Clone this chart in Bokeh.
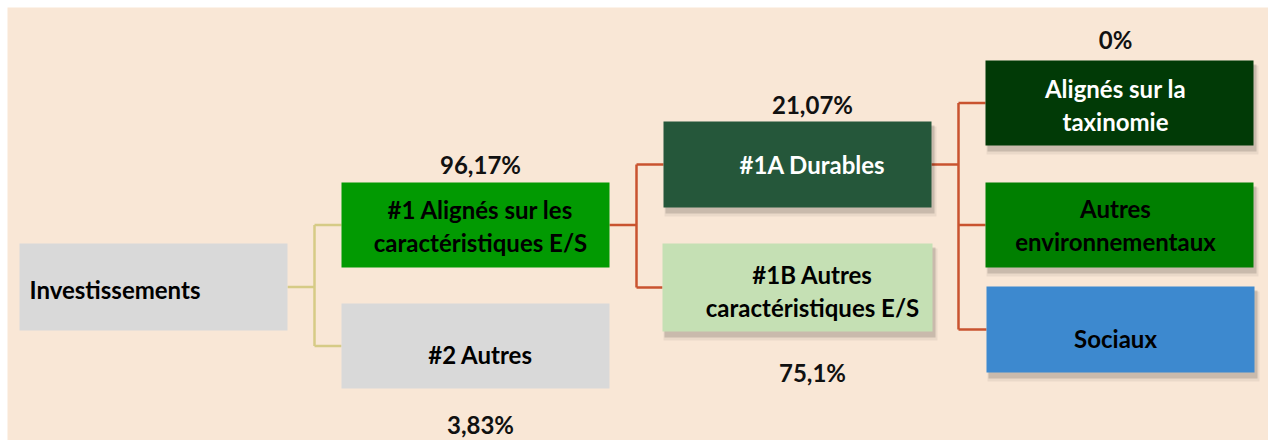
from bokeh.plotting import figure
from bokeh.models import Range1d
from bokeh.core.properties import value
from bokeh.embed import file_html
from bokeh.resources import INLINE

# ---------------- data ----------------
node_ids = ["inv", "n1", "n2", "n1a", "n1b", "tax", "env", "soc"]
node_labels = [
    "Investissements",
    "#1 Alignés sur les\ncaractéristiques E/S",
    "#2 Autres",
    "#1A Durables",
    "#1B Autres\ncaractéristiques E/S",
    "Alignés sur la\ntaxinomie",
    "Autres\nenvironnementaux",
    "Sociaux",
]
node_shares = [None, "96,17%", "3,83%", "21,07%", "75,1%", "0%", None, None]
edges = [("inv", "n1"), ("inv", "n2"),
         ("n1", "n1a"), ("n1", "n1b"),
         ("n1a", "tax"), ("n1a", "env"), ("n1a", "soc")]

# ---------------- layout / style ----------------
BG = "#F9E7D6"
FONT = "Lato"
FS = "24px"
LINE_GAP = 33
layout = {
    "inv": dict(box=(19, 287, 243, 330), tx=29, ty=289, align="left", fill="#D9D9D9", tc="#000000", shadow=False, sy=None),
    "n1":  dict(box=(341, 609, 182, 267), tx=480, ty=225.5, align="center", fill="#029A02", tc="#000000", shadow=False, sy=164),
    "n2":  dict(box=(341, 609, 303, 388), tx=480, ty=354, align="center", fill="#D9D9D9", tc="#000000", shadow=False, sy=424),
    "n1a": dict(box=(663, 931, 121, 207), tx=812, ty=164, align="center", fill="#25573A", tc="#FFFFFF", shadow=True, sy=104),
    "n1b": dict(box=(662, 932, 243, 331), tx=812, ty=290.5, align="center", fill="#C5E0B4", tc="#000000", shadow=True, sy=372),
    "tax": dict(box=(985, 1253, 60, 145), tx=1115, ty=104.5, align="center", fill="#013A06", tc="#FFFFFF", shadow=True, sy=39),
    "env": dict(box=(985, 1253, 182, 267), tx=1115, ty=224.5, align="center", fill="#007F00", tc="#000000", shadow=True, sy=None),
    "soc": dict(box=(986, 1254, 286, 372), tx=1115, ty=338, align="center", fill="#3D89CF", tc="#000000", shadow=True, sy=None),
}
edge_color = {"inv": "#D6CB86", "n1": "#C9532F", "n1a": "#C9532F"}
ELBOW = 27

# peach panel spans x 7..1268, y 7..440; white strip before it
p = figure(width=1268, height=440, output_backend="svg", toolbar_location=None,
           x_range=Range1d(7, 1268), y_range=Range1d(440, 7),
           min_border_left=7, min_border_top=7, min_border_right=0, min_border_bottom=0,
           background_fill_color=BG, border_fill_color="white",
           outline_line_color=None)
p.axis.visible = False
p.grid.visible = False

def cy(nid):
    l, r, t, b = layout[nid]["box"]
    return (t + b) / 2

parents = []
for a, _ in edges:
    if a not in parents:
        parents.append(a)
xs, ys, cols = [], [], []
for par in parents:
    kids = [b for a, b in edges if a == par]
    l, r, t, b = layout[par]["box"]
    ex = r + ELBOW
    c = edge_color[par]
    xs.append([r, ex]); ys.append([cy(par), cy(par)]); cols.append(c)
    kys = [cy(k) for k in kids]
    xs.append([ex, ex]); ys.append([min(kys), max(kys)]); cols.append(c)
    for k in kids:
        xs.append([ex, layout[k]["box"][0]]); ys.append([cy(k), cy(k)]); cols.append(c)
p.multi_line(xs=xs, ys=ys, line_color=cols, line_width=2.5)

for nid in node_ids:
    L = layout[nid]
    if L["shadow"]:
        l, r, t, b = L["box"]
        p.quad(left=l + 1, right=r + 5, top=t + 5, bottom=b + 9, fill_color="#000000", fill_alpha=0.06, line_color=None)
        p.quad(left=l + 2, right=r + 3, top=t + 4, bottom=b + 6, fill_color="#000000", fill_alpha=0.14, line_color=None)

p.quad(left=[layout[n]["box"][0] for n in node_ids],
       right=[layout[n]["box"][1] for n in node_ids],
       top=[layout[n]["box"][2] for n in node_ids],
       bottom=[layout[n]["box"][3] for n in node_ids],
       fill_color=[layout[n]["fill"] for n in node_ids], line_color=None)

for nid, lab in zip(node_ids, node_labels):
    L = layout[nid]
    lines = lab.split("\n")
    n = len(lines)
    for i, ln in enumerate(lines):
        y = L["ty"] + (i - (n - 1) / 2) * LINE_GAP
        p.text(x=[L["tx"]], y=[y], text=[ln], text_align=L["align"], text_baseline="middle",
               text_font=value(FONT), text_font_style="bold", text_font_size=FS, text_color=L["tc"])

for nid, sh in zip(node_ids, node_shares):
    if sh is None:
        continue
    L = layout[nid]
    p.text(x=[L["tx"]], y=[L["sy"]], text=[sh], text_align="center", text_baseline="middle",
           text_font=value(FONT), text_font_style="bold", text_font_size=FS, text_color="#111111")

open("out.html", "w").write(file_html(p, INLINE))
